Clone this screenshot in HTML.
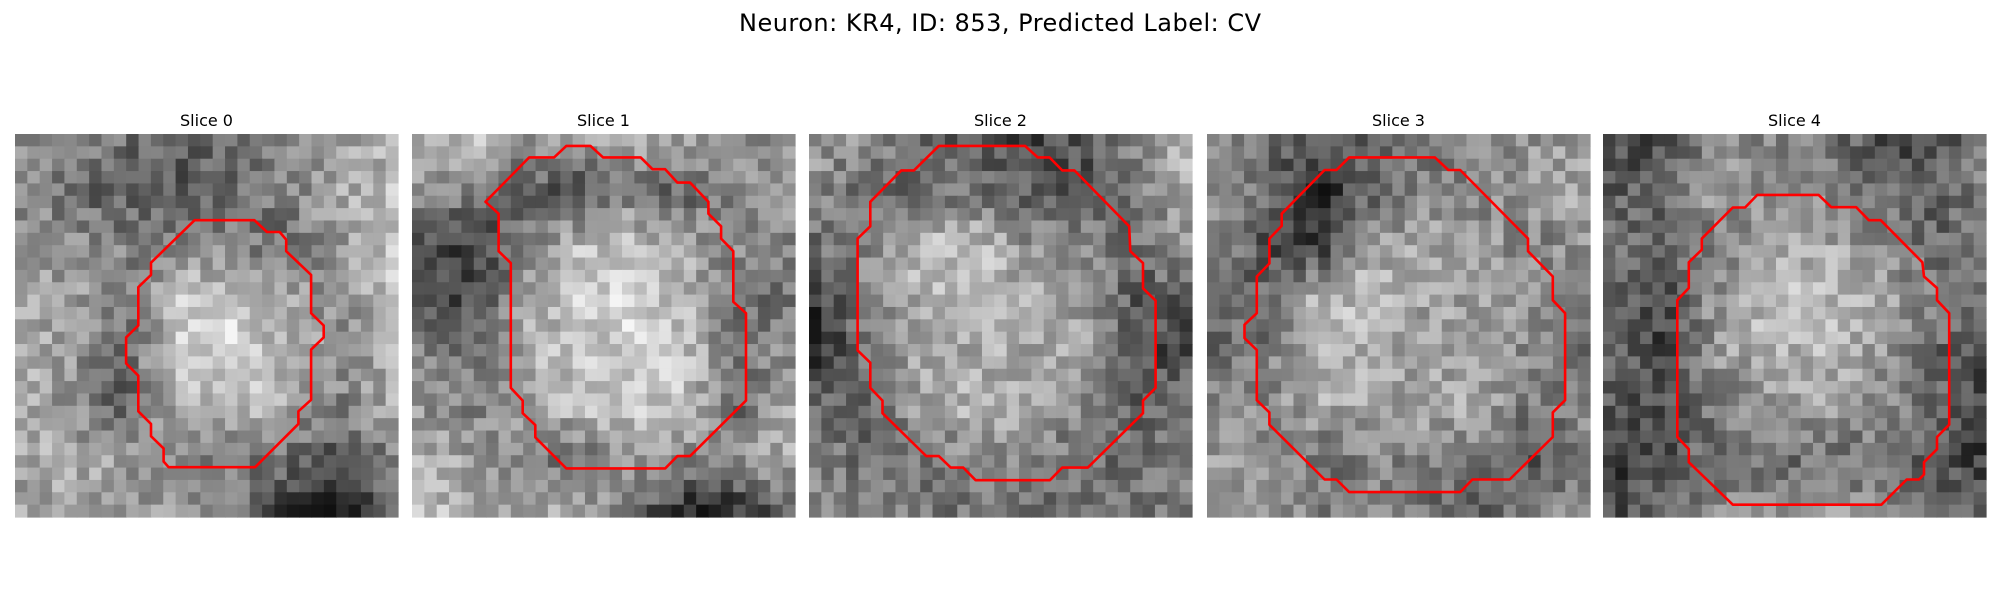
<!DOCTYPE html>
<html><head><meta charset="utf-8">
<style>
html,body{margin:0;padding:0;background:#fff;width:2000px;height:600px;overflow:hidden}
svg{display:block}
text{font-family:"DejaVu Sans","Liberation Sans",sans-serif;fill:#000}
</style></head>
<body>
<svg id="fig" width="2000" height="600" viewBox="0 0 2000 600">
  <text x="1000" y="31" font-size="24" text-anchor="middle" textLength="522">Neuron: KR4, ID: 853, Predicted Label: CV</text>
</svg>
<script>
// Panel labels
const sliceTitles = ["Slice 0","Slice 1","Slice 2","Slice 3","Slice 4"];
// Coarse 8x8 intensity maps (0-255), per slice
const intensity0 = [[150,130,110,100,120,140,160,170],[140,110,90,80,100,130,170,190],[150,140,130,140,130,110,150,200],[170,160,120,200,210,160,140,190],[180,150,110,200,210,190,140,170],[170,140,90,180,200,170,130,170],[170,170,150,130,120,110,80,130],[160,170,160,160,120,60,40,90]];
const intensity1 = [[170,190,150,150,180,150,140,150],[150,130,100,80,120,100,130,150],[80,50,120,190,200,170,140,130],[90,70,160,200,210,190,110,120],[130,120,170,200,210,200,120,140],[150,130,160,190,200,190,100,170],[170,160,120,110,150,140,150,180],[200,170,160,170,120,40,50,90]];
const intensity2 = [[150,140,110,90,70,80,140,190],[140,100,110,120,100,80,120,170],[110,140,190,190,150,140,110,150],[60,130,180,190,170,160,90,100],[40,120,170,170,170,170,80,70],[110,100,170,180,170,150,90,120],[130,110,110,140,130,110,110,110],[150,130,130,110,120,110,110,130]];
const intensity3 = [[150,120,80,100,110,140,150,160],[150,110,40,100,140,130,150,170],[140,80,60,170,160,160,130,150],[100,110,180,190,160,160,150,120],[110,120,180,170,160,170,130,110],[130,140,170,170,160,170,120,140],[160,150,110,130,140,120,80,120],[150,140,130,130,110,100,140,150]];
const intensity4 = [[70,80,140,140,130,80,70,120],[100,90,170,130,130,110,90,120],[120,110,110,160,170,150,110,110],[100,60,150,190,190,170,130,100],[110,70,150,180,180,160,110,80],[90,80,120,150,160,140,120,70],[50,80,110,110,110,120,80,60],[70,100,140,150,150,140,120,90]];
// Contour vertices (fraction of image width/height)
const contour0 = [[.469,.225],[.625,.225],[.658,.256],[.691,.256],[.708,.276],[.708,.306],[.773,.368],[.773,.468],[.806,.500],[.806,.531],[.773,.563],[.773,.694],[.740,.724],[.740,.757],[.627,.870],[.401,.870],[.388,.855],[.388,.821],[.355,.789],[.355,.757],[.322,.724],[.322,.631],[.290,.599],[.290,.531],[.322,.500],[.322,.400],[.355,.368],[.355,.336]];
const contour1 = [[.192,.177],[.306,.061],[.371,.061],[.403,.031],[.466,.031],[.499,.061],[.597,.061],[.628,.092],[.661,.092],[.693,.127],[.726,.127],[.774,.177],[.774,.208],[.807,.241],[.807,.273],[.839,.306],[.839,.438],[.872,.468],[.872,.696],[.726,.841],[.693,.841],[.661,.873],[.403,.873],[.322,.792],[.322,.760],[.289,.729],[.289,.696],[.258,.663],[.258,.337],[.226,.306],[.226,.208]];
const contour2 = [[.339,.031],[.564,.031],[.597,.061],[.628,.061],[.661,.095],[.693,.095],[.836,.241],[.839,.306],[.872,.337],[.872,.403],[.905,.435],[.905,.663],[.872,.696],[.872,.729],[.728,.871],[.661,.871],[.629,.904],[.435,.904],[.403,.871],[.370,.871],[.339,.841],[.306,.841],[.192,.729],[.192,.696],[.160,.663],[.160,.597],[.127,.565],[.127,.273],[.160,.241],[.160,.177],[.241,.095],[.274,.095]];
const contour3 = [[.371,.061],[.595,.061],[.630,.094],[.661,.094],[.838,.273],[.838,.306],[.903,.372],[.903,.434],[.935,.468],[.935,.695],[.903,.727],[.903,.791],[.790,.902],[.693,.902],[.661,.935],[.371,.935],[.338,.902],[.307,.902],[.163,.759],[.163,.727],[.130,.695],[.130,.564],[.098,.533],[.098,.498],[.130,.468],[.130,.372],[.163,.338],[.163,.273],[.195,.240],[.195,.208],[.307,.094],[.338,.094]];
const contour4 = [[.403,.159],[.563,.159],[.596,.191],[.661,.191],[.694,.225],[.725,.225],[.834,.335],[.838,.372],[.872,.402],[.872,.434],[.904,.468],[.904,.759],[.872,.791],[.872,.823],[.838,.857],[.838,.889],[.825,.902],[.793,.902],[.727,.968],[.339,.968],[.224,.857],[.224,.823],[.194,.791],[.194,.434],[.224,.402],[.224,.335],[.258,.302],[.258,.273],[.339,.192],[.371,.192]];

const maps=[intensity0,intensity1,intensity2,intensity3,intensity4];
const contours=[contour0,contour1,contour2,contour3,contour4];
const NS="http://www.w3.org/2000/svg";
const svg=document.getElementById('fig');
const N=31, SIZE=383, TOP=134;
const lefts=[15,412,809,1207,1603];
function texture(s,i,j){let h=Math.sin((s*9973+i*131+j*977)*12.9898)*43758.5453;return (h-Math.floor(h))-0.5;}
function sample(m,u,v){
  const i0=Math.min(6,Math.floor(v)), j0=Math.min(6,Math.floor(u));
  const fv=v-i0, fu=u-j0;
  return (m[i0][j0]*(1-fu)+m[i0][j0+1]*fu)*(1-fv)+(m[i0+1][j0]*(1-fu)+m[i0+1][j0+1]*fu)*fv;
}
for(let s=0;s<5;s++){
  const g=document.createElementNS(NS,'g');
  
  
  svg.appendChild(g);
  const t=document.createElementNS(NS,'text');
  t.setAttribute('x',lefts[s]+SIZE/2);t.setAttribute('y',126);
  t.setAttribute('font-size','16');t.setAttribute('text-anchor','middle');
  t.textContent=sliceTitles[s];
  
  
  g.appendChild(t);
  const cs=SIZE/N;
  for(let i=0;i<N;i++)for(let j=0;j<N;j++){
    let val=sample(maps[s],j/(N-1)*7,i/(N-1)*7)+texture(s,i,j)*75;
    val=Math.max(0,Math.min(255,Math.round(val)));
    const r=document.createElementNS(NS,'rect');
    r.setAttribute('x',(lefts[s]+j*cs).toFixed(2));r.setAttribute('y',(TOP+i*cs).toFixed(2));
    r.setAttribute('width',(cs+0.6).toFixed(2));r.setAttribute('height',(cs+0.6).toFixed(2));
    r.setAttribute('fill','rgb('+val+','+val+','+val+')');
    
    
    g.appendChild(r);
  }
  const p=document.createElementNS(NS,'polygon');
  p.setAttribute('points',contours[s].map(c=>(lefts[s]+c[0]*SIZE).toFixed(1)+','+(TOP+c[1]*SIZE).toFixed(1)).join(' '));
  p.setAttribute('fill','none');p.setAttribute('stroke','#ff0000');p.setAttribute('stroke-width','2.6');
  p.setAttribute('stroke-linejoin','round');
  
  
  g.appendChild(p);
}
</script>
</body></html>
